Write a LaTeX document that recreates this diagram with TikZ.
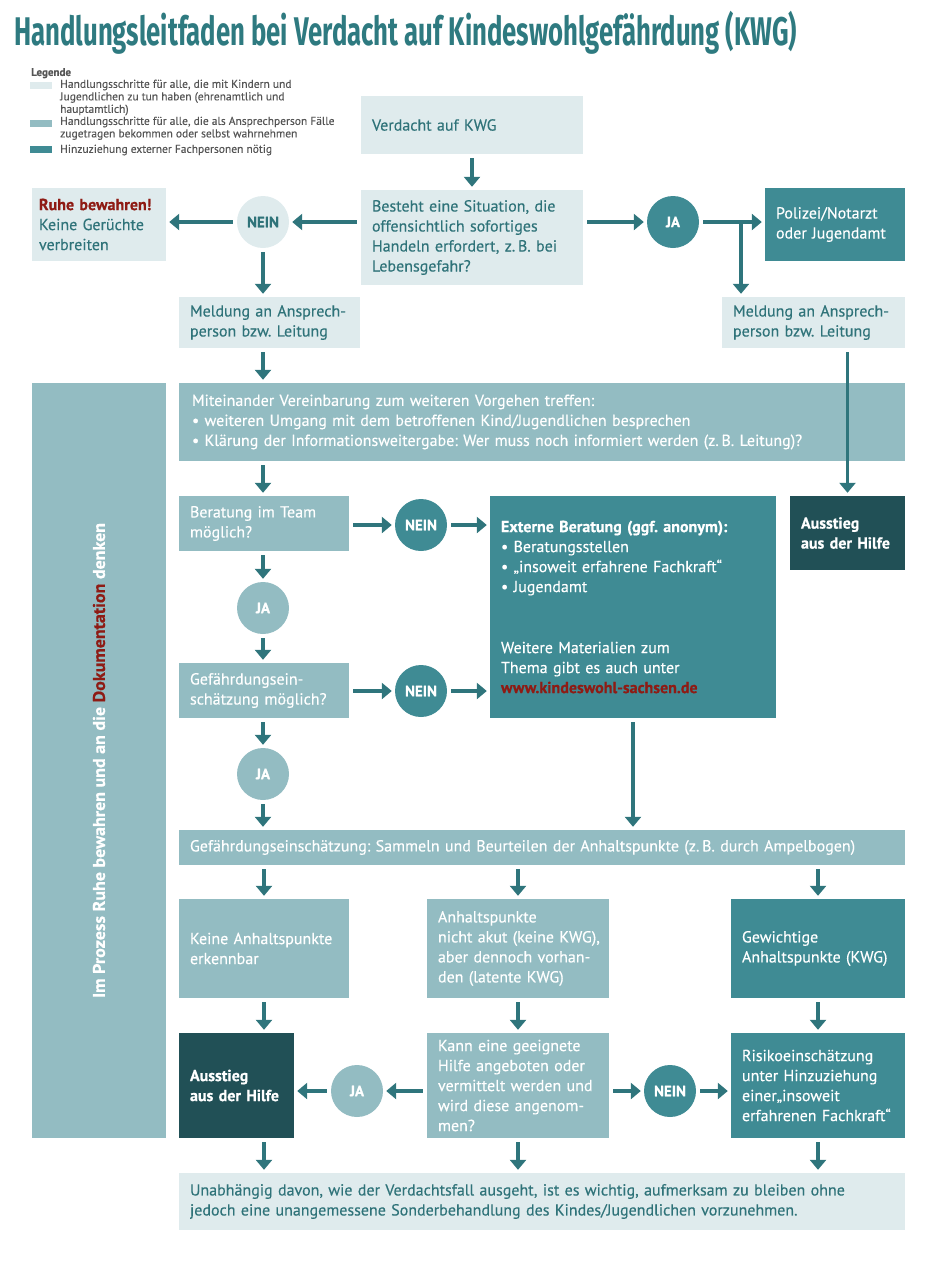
\documentclass[tikz,border=0pt]{standalone}
\usepackage{fontspec}
\setmainfont{PT Sans}[UprightFeatures={FakeBold=0.3}, BoldFeatures={FakeBold=0.6}]
\newfontfamily\titlefont{Fira Sans}
\usetikzlibrary{arrows.meta}
\definecolor{kwgLight}{HTML}{DFEBED}
\definecolor{kwgMid}{HTML}{93BCC2}
\definecolor{kwgDark}{HTML}{3F8B94}
\definecolor{kwgDeep}{HTML}{215056}
\definecolor{kwgArrow}{HTML}{2F757C}
\definecolor{kwgText}{HTML}{2F7379}
\definecolor{kwgTitle}{HTML}{2E7A80}
\definecolor{kwgRed}{HTML}{8E1B14}
\definecolor{kwgGrey}{HTML}{555555}
\frenchspacing

\begin{document}
\begin{tikzpicture}[x=1pt,y=-1pt,
    box/.style={rectangle, inner xsep=11pt, inner ysep=0pt, align=left,
      font=\fontsize{16}{20}\selectfont},
    size/.style 2 args={minimum width=#1pt, minimum height=#2pt, text width=#1pt-22pt},
    light/.style={box, fill=kwgLight, text=kwgText},
    mid/.style={box, fill=kwgMid, text=white},
    dark/.style={box, fill=kwgDark, text=white},
    deep/.style={box, fill=kwgDeep, text=white, font=\fontsize{16}{20}\selectfont\bfseries},
    answer/.style={circle, minimum size=52pt, inner sep=0pt, text=white,
      font=\fontsize{15}{18}\selectfont\bfseries},
    swatch/.style={rectangle, inner sep=0pt, minimum width=22pt, minimum height=7pt, anchor=north west},
    legtext/.style={anchor=north west, inner sep=0pt, align=left, text=kwgGrey,
      font=\fontsize{11.5}{12.5}\selectfont}]
  \useasboundingbox (0,0) rectangle (936,1264);

  \node (title) [anchor=base west, inner sep=0pt, text=kwgTitle] at (14,45)
    {\resizebox{783pt}{\height}{\titlefont\fontsize{40}{40}\selectfont\bfseries
      Handlungsleitfaden bei Verdacht auf Kindeswohlgefährdung (KWG)}};

  % Legende
  \node (legende) [legtext, font=\fontsize{11}{12.5}\selectfont\bfseries] at (31,68) {Legende};
  \node (leg1) [swatch, fill=kwgLight] at (30,82) {};
  \node (leg2) [swatch, fill=kwgMid] at (30,120) {};
  \node (leg3) [swatch, fill=kwgDark] at (30,146) {};
  \node (legtext1) [legtext] at (60,79.5) {Handlungsschritte für alle, die mit Kindern und\\
    Jugendlichen zu tun haben (ehrenamtlich und\\hauptamtlich)};
  \node (legtext2) [legtext] at (60,116.5) {Handlungsschritte für alle, die als Ansprechperson Fälle\\
    zugetragen bekommen oder selbst wahrnehmen};
  \node (legtext3) [legtext] at (60,144.5) {Hinzuziehung externer Fachpersonen nötig};

  \begin{scope}
    \node (verdacht) [light, size={222}{58}] at (472,125) {Verdacht auf KWG};
    \node (situation) [light, size={222}{95}] at (472,237.5)
      {Besteht eine Situation, die\\offensichtlich sofortiges\\Handeln erfordert, z.\,B. bei\\Lebensgefahr?};
    \node (ruhe) [light, size={134}{73}, inner xsep=7pt, text width=120pt] at (99,224.5)
      {{\color{kwgRed}\bfseries Ruhe~bewahren!}\\Keine Gerüchte\\verbreiten};
    \node (meldungL) [light, size={181}{51}] at (269.5,322.5) {Meldung~an~Ansprech-\\person bzw. Leitung};
    \node (meldungR) [light, size={183}{51}] at (813.5,322.5) {Meldung~an~Ansprech-\\person bzw. Leitung};
    \node (polizei) [dark, size={140}{73}] at (835,224.5) {Polizei/Notarzt\\oder Jugendamt};
    \node (vereinbarung) [mid, size={726}{78}, inner xsep=13pt, text width=700pt] at (542,422)
      {Miteinander Vereinbarung zum weiteren Vorgehen treffen:\\
       \textbullet\ weiteren Umgang mit dem betroffenen Kind/Jugendlichen besprechen\\
       \textbullet\ Klärung der Informationsweitergabe: Wer muss noch informiert werden (z.\,B. Leitung)?};
    \node (prozess) [mid, rotate=90, minimum width=755pt, minimum height=134pt, align=center,
      font=\fontsize{17}{20}\selectfont\bfseries] at (99,760.5)
      {\resizebox{475pt}{\height}{Im Prozess Ruhe bewahren und an die {\color{kwgRed}Dokumentation} denken}};
    \node (team) [mid, size={170}{55}] at (264,523.5) {Beratung im Team\\möglich?};
    \node (extern) [dark, size={286}{222}] at (633,607)
      {\textbf{Externe Beratung (ggf. anonym):}\\
       \textbullet\ Beratungsstellen\\
       \textbullet\ „insoweit erfahrene Fachkraft“\\
       \textbullet\ Jugendamt\\[41pt]
       Weitere Materialien zum\\Thema gibt es auch unter\\
       {\color{kwgRed}\bfseries www.kindeswohl-sachsen.de}};
    \node (ausstiegR) [deep, size={115}{74}] at (847.5,533) {Ausstieg\\aus~der~Hilfe};
    \node (einschaetzung) [mid, size={170}{55}] at (264,690.5) {Gefährdungsein-\\schätzung möglich?};
    \node (sammeln) [mid, size={726}{35}, text width=704pt] at (542,847.5)
      {Gefährdungseinschätzung: Sammeln und Beurteilen der Anhaltspunkte (z.\,B. durch Ampelbogen)};
    \node (keine) [mid, size={170}{99}] at (264,948.5) {Keine~Anhaltspunkte\\erkennbar};
    \node (latent) [mid, size={182}{99}] at (518,948.5)
      {Anhaltspunkte\\nicht~akut~(keine~KWG),\\aber~dennoch~vorhan-\\den (latente KWG)};
    \node (gewichtig) [dark, size={174}{99}] at (818,948.5) {Gewichtige\\Anhaltspunkte~(KWG)};
    \node (ausstiegL) [deep, size={115}{105}] at (236.5,1085.5) {Ausstieg\\aus~der~Hilfe};
    \node (hilfe) [mid, size={182}{105}] at (518,1085.5)
      {Kann eine geeignete\\Hilfe~angeboten~oder\\vermittelt~werden~und\\wird~diese~angenom-\\men?};
    \node (risiko) [dark, size={174}{105}] at (818,1085.5)
      {Risikoeinschätzung\\unter~Hinzuziehung\\einer„insoweit\\erfahrenen~Fachkraft“};
    \node (abschluss) [light, size={726}{57}, text width=704pt] at (542,1201.5)
      {Unabhängig davon, wie der Verdachtsfall ausgeht, ist es wichtig, aufmerksam zu bleiben ohne\\
       jedoch eine unangemessene Sonderbehandlung des Kindes/Jugendlichen vorzunehmen.};
  \end{scope}

  \begin{scope}[every node/.style={answer}]
    \node (nein1) [fill=kwgLight, text=kwgText] at (263,222) {NEIN};
    \node (ja1) [fill=kwgDark] at (673,222) {JA};
    \node (nein2) [fill=kwgDark] at (421,525) {NEIN};
    \node (ja2) [fill=kwgMid] at (263,608) {JA};
    \node (nein3) [fill=kwgDark] at (421,691) {NEIN};
    \node (ja3) [fill=kwgMid] at (263,774) {JA};
    \node (ja4) [fill=kwgMid] at (357,1091) {JA};
    \node (nein4) [fill=kwgDark] at (670,1091) {NEIN};
  \end{scope}

  \coordinate (abzweig) at (741,222);

  \begin{scope}[>={Triangle[width=16pt,length=10pt]},
      every edge/.style={draw=kwgArrow, line width=3.5pt, shorten <=4pt, shorten >=3pt}]
    \path [->] (verdacht.south) edge (situation.north);
    \path [->] (situation.west |- nein1) edge (nein1.east);
    \path [->] (nein1.west) edge (nein1 -| ruhe.east);
    \path [->] (nein1.south) edge (nein1 |- meldungL.north);
    \path [->] (situation.east |- ja1) edge (ja1.west);
    \path [->] (ja1.east) edge (ja1 -| polizei.west);
    \path [->] (abzweig) edge [shorten <=0pt] (abzweig |- meldungR.north);
    \path [->] (nein1 |- meldungL.south) edge (nein1 |- vereinbarung.north);
    \path [->] (nein1 |- vereinbarung.south) edge (nein1 |- team.north);
    \path [->] (ausstiegR |- meldungR.south) edge (ausstiegR.north);
    \path [->] (team.east |- nein2) edge (nein2.west);
    \path [->] (nein2.east) edge (nein2 -| extern.west);
    \path [->] (ja2 |- team.south) edge (ja2.north);
    \path [->] (ja2.south) edge (ja2 |- einschaetzung.north);
    \path [->] (einschaetzung.east |- nein3) edge (nein3.west);
    \path [->] (nein3.east) edge (nein3 -| extern.west);
    \path [->] (ja3 |- einschaetzung.south) edge (ja3.north);
    \path [->] (ja3.south) edge (ja3 |- sammeln.north);
    \path [->] (extern.south) edge (extern.south |- sammeln.north);
    \path [->] (keine |- sammeln.south) edge (keine.north);
    \path [->] (latent |- sammeln.south) edge (latent.north);
    \path [->] (gewichtig |- sammeln.south) edge (gewichtig.north);
    \path [->] (keine.south) edge (keine |- ausstiegL.north);
    \path [->] (latent.south) edge (hilfe.north);
    \path [->] (gewichtig.south) edge (risiko.north);
    \path [->] (hilfe.west |- ja4) edge (ja4.east);
    \path [->] (ja4.west) edge (ja4 -| ausstiegL.east);
    \path [->] (hilfe.east |- nein4) edge (nein4.west);
    \path [->] (nein4.east) edge (nein4 -| risiko.west);
    \path [->] (keine |- ausstiegL.south) edge (keine |- abschluss.north);
    \path [->] (hilfe.south) edge (hilfe |- abschluss.north);
    \path [->] (risiko.south) edge (risiko |- abschluss.north);
  \end{scope}
\end{tikzpicture}
\end{document}
